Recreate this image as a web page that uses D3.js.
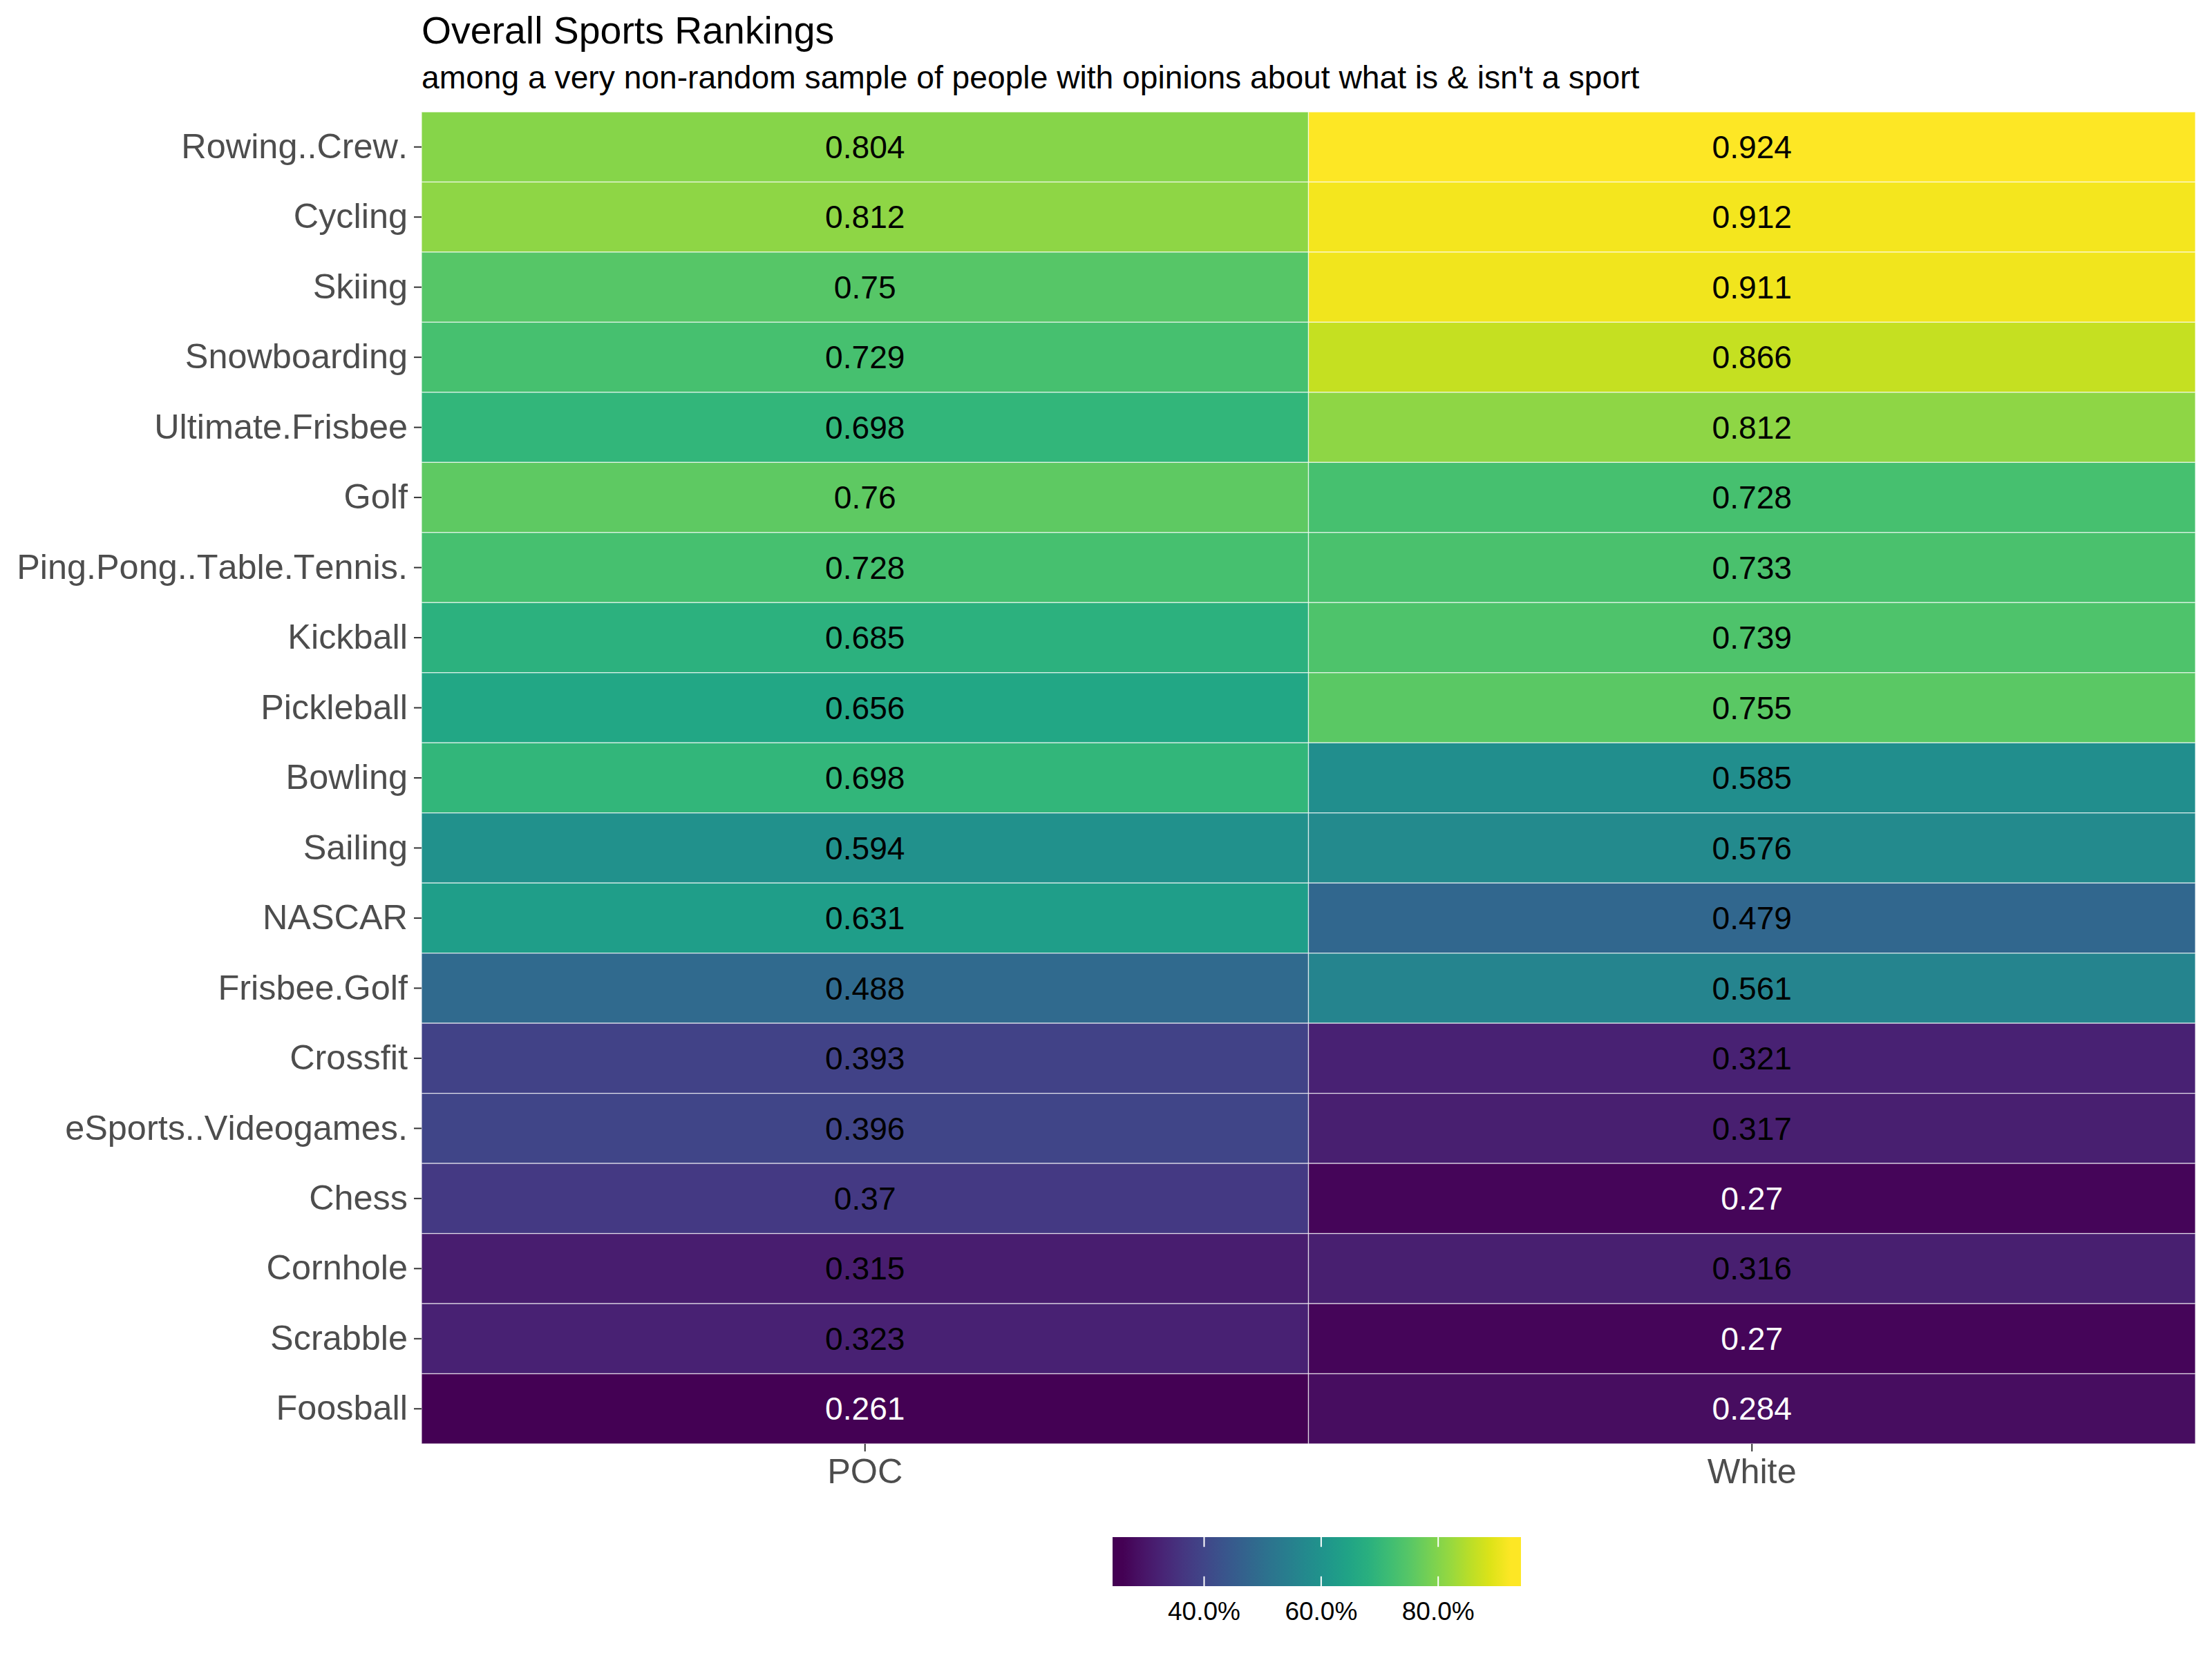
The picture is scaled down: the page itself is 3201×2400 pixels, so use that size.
<!DOCTYPE html>
<html>
<head>
<meta charset="utf-8">
<script src="https://cdn.jsdelivr.net/npm/d3@7"></script>
<style>
  html, body { margin: 0; padding: 0; background: #ffffff; }
  svg { display: block; }
  text { font-family: "Liberation Sans", Arial, sans-serif; font-kerning: none; }
</style>
</head>
<body>
<svg id="chart" width="3201" height="2400"></svg>
<script>
// ---- data ----
const sports = [
  "Rowing..Crew.", "Cycling", "Skiing", "Snowboarding", "Ultimate.Frisbee",
  "Golf", "Ping.Pong..Table.Tennis.", "Kickball", "Pickleball", "Bowling",
  "Sailing", "NASCAR", "Frisbee.Golf", "Crossfit", "eSports..Videogames.",
  "Chess", "Cornhole", "Scrabble", "Foosball"
];
const groups = ["POC", "White"];
const pocValues = [0.804, 0.812, 0.75, 0.729, 0.698, 0.76, 0.728, 0.685, 0.656, 0.698,
                   0.594, 0.631, 0.488, 0.393, 0.396, 0.37, 0.315, 0.323, 0.261];
const whiteValues = [0.924, 0.912, 0.911, 0.866, 0.812, 0.728, 0.733, 0.739, 0.755, 0.585,
                     0.576, 0.479, 0.561, 0.321, 0.317, 0.27, 0.316, 0.27, 0.284];
const legendTicks = [0.4, 0.6, 0.8];
const titleText = "Overall Sports Rankings";
const subtitleText = "among a very non-random sample of people with opinions about what is & isn't a sport";

// ---- build cells ----
const cells = [];
sports.forEach((s, i) => {
  cells.push({ sport: s, group: "POC", value: pocValues[i] });
  cells.push({ sport: s, group: "White", value: whiteValues[i] });
});

// ---- layout ----
const W = 3201, H = 2400;
const panel = { left: 610, right: 3177, top: 162, bottom: 2090 };
const FONT = "'Liberation Sans', Arial, sans-serif";

const svg = d3.select("#chart");
svg.append("rect").attr("width", W).attr("height", H).attr("fill", "#ffffff");

const x = d3.scaleBand().domain(groups).range([panel.left, panel.right]).padding(0);
const y = d3.scaleBand().domain(sports).range([panel.top, panel.bottom]).padding(0);

const allVals = pocValues.concat(whiteValues);
const vExtent = d3.extent(allVals);
const color = d3.scaleSequential(d3.interpolateViridis).domain(vExtent);

// ---- tiles ----
svg.append("g").selectAll("rect").data(cells).join("rect")
  .attr("x", d => x(d.group))
  .attr("y", d => y(d.sport))
  .attr("width", x.bandwidth())
  .attr("height", y.bandwidth())
  .attr("fill", d => color(d.value))
  .attr("stroke", "#ffffff")
  .attr("stroke-opacity", 0.7)
  .attr("stroke-width", 1.3);

// ---- tile labels ----
svg.append("g").selectAll("text").data(cells).join("text")
  .attr("x", d => x(d.group) + x.bandwidth() / 2)
  .attr("y", d => y(d.sport) + y.bandwidth() / 2)
  .attr("dy", "0.35em")
  .attr("text-anchor", "middle")
  .attr("font-size", 46.2)
  .attr("fill", d => d.value < 0.3 ? "#ffffff" : "#000000")
  .text(d => String(d.value));

// ---- axes ----
const yAxis = d3.axisLeft(y).tickSize(11).tickPadding(9);
const gy = svg.append("g").attr("transform", `translate(${panel.left},0)`).call(yAxis);
gy.select(".domain").remove();
gy.selectAll(".tick line").attr("stroke", "#333333").attr("stroke-width", 2);
gy.selectAll(".tick text").attr("font-size", 50.4).attr("fill", "#4D4D4D")
  .attr("font-family", FONT);

const xAxis = d3.axisBottom(x).tickSize(11).tickPadding(10);
const gx = svg.append("g").attr("transform", `translate(0,${panel.bottom})`).call(xAxis);
gx.select(".domain").remove();
gx.selectAll(".tick line").attr("stroke", "#333333").attr("stroke-width", 2);
gx.selectAll(".tick text").attr("font-size", 50.4).attr("fill", "#4D4D4D")
  .attr("font-family", FONT);

// ---- title ----
svg.append("text").attr("x", panel.left).attr("y", 63)
  .attr("font-size", 55.4).attr("fill", "#000000").text(titleText);
svg.append("text").attr("x", panel.left).attr("y", 128)
  .attr("font-size", 46.2).attr("fill", "#000000").text(subtitleText);

// ---- legend (colourbar with 20 bins, bar extends half a bin past the limits) ----
const nbin = 20;
const binStep = (vExtent[1] - vExtent[0]) / (nbin - 1);
const leg = { left: 1610, right: 2201, top: 2225, height: 71 };
const lx = d3.scaleLinear()
  .domain([vExtent[0] - binStep / 2, vExtent[1] + binStep / 2])
  .range([leg.left, leg.right]);
const defs = svg.append("defs");
const grad = defs.append("linearGradient").attr("id", "vgrad")
  .attr("x1", "0%").attr("x2", "100%").attr("y1", "0%").attr("y2", "0%");
d3.range(nbin).forEach(i => {
  const v = vExtent[0] + i * binStep;
  grad.append("stop").attr("offset", ((i + 0.5) / nbin * 100) + "%").attr("stop-color", color(v));
});
svg.append("rect")
  .attr("x", leg.left).attr("y", leg.top)
  .attr("width", leg.right - leg.left).attr("height", leg.height)
  .attr("fill", "url(#vgrad)");

const lg = svg.append("g");
const tickLen = leg.height / 5;
legendTicks.forEach(t => {
  lg.append("line").attr("x1", lx(t)).attr("x2", lx(t))
    .attr("y1", leg.top).attr("y2", leg.top + tickLen)
    .attr("stroke", "#ffffff").attr("stroke-width", 2);
  lg.append("line").attr("x1", lx(t)).attr("x2", lx(t))
    .attr("y1", leg.top + leg.height - tickLen).attr("y2", leg.top + leg.height)
    .attr("stroke", "#ffffff").attr("stroke-width", 2);
  lg.append("text").attr("x", lx(t)).attr("y", 2345)
    .attr("text-anchor", "middle").attr("font-size", 37).attr("fill", "#000000")
    .text(d3.format(".1%")(t));
});
</script>
</body>
</html>
